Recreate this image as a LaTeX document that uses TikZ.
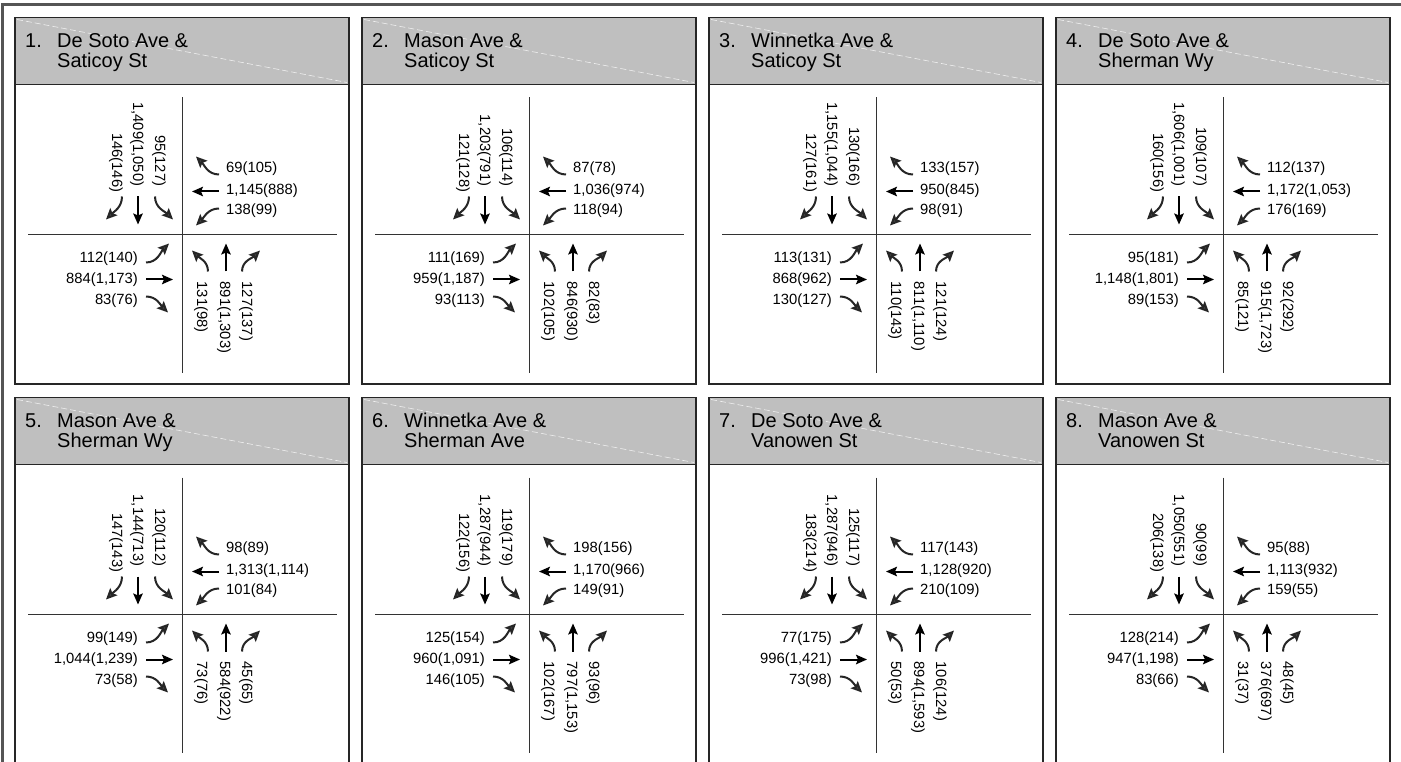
\documentclass[tikz,border=0pt]{standalone}
\usepackage{fontspec}
\setmainfont{Liberation Sans}
\usetikzlibrary{arrows.meta}

\definecolor{hdrgray}{RGB}{191,191,191}
\definecolor{framegray}{RGB}{85,85,85}

\tikzset{
  boxline/.style={draw=black!85, line width=1.4pt},
  road/.style={draw=black!80, line width=1.1pt},
  thru/.style={line width=2pt, -{Stealth[length=11pt,width=9.5pt,inset=2pt]}},
  turn/.style={line width=2pt, draw=black!85, -{Stealth[length=11pt,width=10pt,inset=2pt,fill=black!72]}},
  cnt/.style={inner sep=0pt, font=\fontsize{14.8}{17}\selectfont},
  vcnt/.style={cnt, rotate=-90},
  hdr/.style={inner sep=0pt, anchor=base west, font=\fontsize{20}{20}\selectfont}
}

% southbound: right, through, left
\newcommand{\sbflow}[4]{%
  \node[vcnt, anchor=east] (#1-sbr) at (-66.5,42) {#2};
  \node[vcnt, anchor=east] (#1-sbt) at (-45.5,48) {#3};
  \node[vcnt, anchor=east] (#1-sbl) at (-23.5,48) {#4};
  \draw[turn] (-60.5,38) to[out=-90,in=45] (-76.5,15);
  \draw[thru] (-44.5,38) -- (-44.5,10);
  \draw[turn] (-27.5,38) to[out=-90,in=135] (-9.5,15);
}
% westbound: right, through, left
\newcommand{\wbflow}[4]{%
  \node[cnt, anchor=west] (#1-wbr) at (43.5,66) {#2};
  \node[cnt, anchor=west] (#1-wbt) at (43.5,44) {#3};
  \node[cnt, anchor=west] (#1-wbl) at (43.5,24) {#4};
  \draw[turn] (36.5,60) to[out=180,in=-45] (13.5,78);
  \draw[thru] (36.5,43) -- (9.5,43);
  \draw[turn] (36.5,26) to[out=180,in=45] (13.5,9);
}
% eastbound: left, through, right
\newcommand{\ebflow}[4]{%
  \node[cnt, anchor=east] (#1-ebl) at (-44.5,-24) {#2};
  \node[cnt, anchor=east] (#1-ebt) at (-44.5,-45) {#3};
  \node[cnt, anchor=east] (#1-ebr) at (-44.5,-66) {#4};
  \draw[turn] (-36.5,-28) to[out=0,in=-135] (-13.5,-9);
  \draw[thru] (-36.5,-45) -- (-9.5,-45);
  \draw[turn] (-36.5,-62) to[out=0,in=135] (-14.5,-78);
}
% northbound: left, through, right
\newcommand{\nbflow}[4]{%
  \node[vcnt, anchor=west] (#1-nbl) at (18.5,-47) {#2};
  \node[vcnt, anchor=west] (#1-nbt) at (41.5,-47) {#3};
  \node[vcnt, anchor=west] (#1-nbr) at (63.5,-47) {#4};
  \draw[turn] (25.5,-37) to[out=90,in=-45] (9.5,-16);
  \draw[thru] (43.5,-37) -- (43.5,-9);
  \draw[turn] (59.5,-37) to[out=90,in=-135] (77.5,-16);
}
% one panel: left, top, number, street 1, street 2, SB, WB, EB, NB
\newcommand{\intersec}[9]{%
  \begin{scope}[shift={(#1,-#2)}]
    % header
    \fill[hdrgray] (0,0) rectangle (334,-67);
    \draw[white!75!hdrgray, line width=0.6pt, dash pattern=on 6pt off 3pt] (2,-2) -- (332,-65);
    \node[hdr] (t#3) at (10,-30) {#3.};
    \node[hdr] (t#3a) at (42,-30) {#4};
    \node[hdr] (t#3b) at (42,-50) {#5};
    % frame
    \draw[boxline] (0,0) rectangle (334,-366.5);
    \draw[boxline] (0,-67) -- (334,-67);
    % streets and counts
    \begin{scope}[shift={(167.5,-217)}]
      \draw[road] (0,137) -- (0,-138);
      \draw[road] (-154.5,0) -- (154.5,0);
      \sbflow{p#3}#6
      \wbflow{p#3}#7
      \ebflow{p#3}#8
      \nbflow{p#3}#9
    \end{scope}
  \end{scope}
}

\begin{document}
\begin{tikzpicture}[x=1pt,y=1pt]
\useasboundingbox (0,0) rectangle (1401,-762);
\clip (0,0) rectangle (1401,-762);

% outer frame
\draw[framegray, line width=2.2pt] (1410,-4.5) -- (2.5,-4.5) -- (2.5,-770);

% top row
\intersec{15}{17.5}{1}{De Soto Ave \&}{Saticoy St}
  {{146(146)}{1,409(1,050)}{95(127)}}
  {{69(105)}{1,145(888)}{138(99)}}
  {{112(140)}{884(1,173)}{83(76)}}
  {{131(98)}{891(1,303)}{127(137)}}
\intersec{362}{17.5}{2}{Mason Ave \&}{Saticoy St}
  {{121(128)}{1,203(791)}{106(114)}}
  {{87(78)}{1,036(974)}{118(94)}}
  {{111(169)}{959(1,187)}{93(113)}}
  {{102(105)}{846(930)}{82(83)}}
\intersec{709}{17.5}{3}{Winnetka Ave \&}{Saticoy St}
  {{127(161)}{1,155(1,044)}{130(166)}}
  {{133(157)}{950(845)}{98(91)}}
  {{113(131)}{868(962)}{130(127)}}
  {{110(143)}{811(1,110)}{121(124)}}
\intersec{1056}{17.5}{4}{De Soto Ave \&}{Sherman Wy}
  {{160(156)}{1,606(1,001)}{109(107)}}
  {{112(137)}{1,172(1,053)}{176(169)}}
  {{95(181)}{1,148(1,801)}{89(153)}}
  {{85(121)}{915(1,723)}{92(292)}}

% bottom row
\intersec{15}{397.5}{5}{Mason Ave \&}{Sherman Wy}
  {{147(143)}{1,144(713)}{120(112)}}
  {{98(89)}{1,313(1,114)}{101(84)}}
  {{99(149)}{1,044(1,239)}{73(58)}}
  {{73(76)}{584(922)}{45(65)}}
\intersec{362}{397.5}{6}{Winnetka Ave \&}{Sherman Ave}
  {{122(156)}{1,287(944)}{119(179)}}
  {{198(156)}{1,170(966)}{149(91)}}
  {{125(154)}{960(1,091)}{146(105)}}
  {{102(167)}{797(1,153)}{93(96)}}
\intersec{709}{397.5}{7}{De Soto Ave \&}{Vanowen St}
  {{183(214)}{1,287(946)}{125(117)}}
  {{117(143)}{1,128(920)}{210(109)}}
  {{77(175)}{996(1,421)}{73(98)}}
  {{50(53)}{894(1,593)}{106(124)}}
\intersec{1056}{397.5}{8}{Mason Ave \&}{Vanowen St}
  {{206(138)}{1,050(551)}{90(99)}}
  {{95(88)}{1,113(932)}{159(55)}}
  {{128(214)}{947(1,198)}{83(66)}}
  {{31(37)}{376(697)}{48(45)}}

\end{tikzpicture}
\end{document}
